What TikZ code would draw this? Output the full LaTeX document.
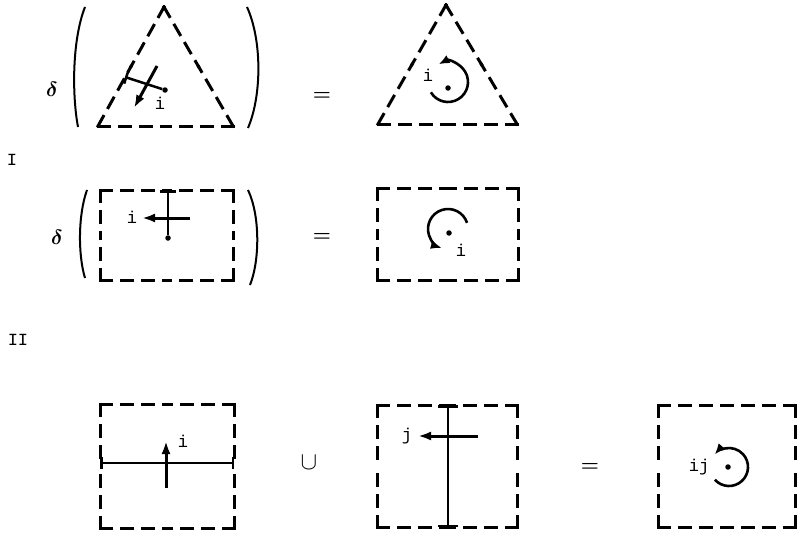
\documentclass[tikz,border=0pt]{standalone}
\usepackage{fontspec}
\setmonofont{Liberation Mono}
\usetikzlibrary{arrows.meta,calc}
\tikzset{
  edgeline/.style={line width=3pt, line cap=rect, dash pattern=on 11pt off 10pt},
  paren/.style={line width=2pt},
  cutline/.style={line width=2.5pt},
  flow/.style={line width=3pt, -{Latex[length=13pt,width=9pt]}},
  turn/.style={line width=2.6pt, -{Latex[length=11pt,width=9pt]}},
  lbl/.style={font=\ttfamily\fontsize{17}{17}\selectfont, inner sep=0pt},
  sym/.style={font=\boldmath\fontsize{22}{22}\selectfont, inner sep=0pt},
  dotmark/.style={circle, fill, inner sep=0pt, minimum size=5.5pt}
}

\begin{document}
\begin{tikzpicture}[x=1pt,y=-1pt]
  \useasboundingbox (0,0) rectangle (797,535);

  % corners of the dashed cells
  \coordinate (ta) at (98,126);  \coordinate (tb) at (233,126); \coordinate (tc) at (164,7);
  \coordinate (ua) at (378,124); \coordinate (ub) at (517,124); \coordinate (uc) at (446,5);
  \coordinate (ra) at (100,190); \coordinate (rb) at (233,190); \coordinate (rc) at (233,280); \coordinate (rd) at (100,280);
  \coordinate (sa) at (377,188); \coordinate (sb) at (518,188); \coordinate (sc) at (518,280); \coordinate (sd) at (377,280);
  \coordinate (pa) at (100,404); \coordinate (pb) at (234,404); \coordinate (pc) at (234,528); \coordinate (pd) at (100,528);
  \coordinate (qa) at (377,405); \coordinate (qb) at (517,405); \coordinate (qc) at (517,527); \coordinate (qd) at (377,527);
  \coordinate (wa) at (658,405); \coordinate (wb) at (795,405); \coordinate (wc) at (795,527); \coordinate (wd) at (658,527);

  % dashed outlines, each side from both corners
  \foreach \p/\q in {ta/tb,tb/tc,tc/ta, ua/ub,ub/uc,uc/ua,
                     ra/rb,rb/rc,rc/rd,rd/ra, sa/sb,sb/sc,sc/sd,sd/sa,
                     pa/pb,pb/pc,pc/pd,pd/pa, qa/qb,qb/qc,qc/qd,qd/qa,
                     wa/wb,wb/wc,wc/wd,wd/wa} {
    \draw[edgeline] (\p) -- ($(\p)!0.5!(\q)$);
    \draw[edgeline] (\q) -- ($(\p)!0.5!(\q)$);
  }

  % row labels and operators
  \node[lbl] (rowI) at (12,160) {I};
  \node[lbl] (rowII) at (18,340) {II};
  \node[sym] (delta1) at (52,89) {$\delta$};
  \node[sym] (delta2) at (57,237) {$\delta$};
  \node[sym] (eq1) at (322,96) {$=$};
  \node[sym] (eq2) at (322,237) {$=$};
  \node[sym, font=\fontsize{27}{27}\selectfont] (union) at (309,463) {$\cup$};
  \node[sym] (eq3) at (590,467) {$=$};

  % brackets round the operands of delta
  \draw[paren] (85,7) .. controls (72,40) and (72,95) .. (78,127);
  \draw[paren] (247,7) .. controls (262,40) and (262,95) .. (248,128);
  \draw[paren] (87,190) .. controls (78,215) and (78,255) .. (85,278);
  \draw[paren] (248,190) .. controls (260,215) and (260,260) .. (250,285);

  % triangle, edge cut and flux
  \node[dotmark] (tdot) at (165,90) {};
  \coordinate (tcut) at (125,77);
  \draw[cutline, {Bar[width=13pt]}-] (tcut) -- (tdot);
  \coordinate (tfs) at (157,66); \coordinate (tfe) at (134,108);
  \draw[flow] (tfs) -- (tfe);
  \node[lbl] (ti) at (160,103) {i};

  % triangle, circulation
  \node[dotmark] (udot) at (448,88) {};
  \draw[turn] (448,82) ++(149:20) arc[start angle=149, end angle=-118, radius=20];
  \node[lbl] (ui) at (428,75) {i};

  % rectangle, edge cut and flux
  \node[dotmark] (rdot) at (168,238) {};
  \coordinate (rcut) at (168,190);
  \draw[cutline, {Bar[width=16pt]}-] (rcut) -- (rdot);
  \coordinate (rfs) at (190,218); \coordinate (rfe) at (142,218);
  \draw[flow] (rfs) -- (rfe);
  \node[lbl] (ri) at (132,217) {i};

  % rectangle, circulation
  \node[dotmark] (sdot) at (449,233) {};
  \draw[turn] (448,229) ++(-18:20) arc[start angle=-18, end angle=-252, radius=20];
  \node[lbl] (si) at (461,250) {i};

  % union of two cuts
  \coordinate (pl) at (100,463); \coordinate (pr) at (234,463);
  \draw[cutline, {Bar[width=12pt]}-{Bar[width=12pt]}] (pl) -- (pr);
  \coordinate (pfs) at (166,488); \coordinate (pfe) at (166,441);
  \draw[flow] (pfs) -- (pfe);
  \node[lbl] (pi) at (183,441) {i};

  \coordinate (qt) at (448,405); \coordinate (qbot) at (448,527);
  \draw[cutline, {Bar[width=20pt]}-{Bar[width=20pt]}] (qt) -- (qbot);
  \coordinate (qfs) at (478,436); \coordinate (qfe) at (418,436);
  \draw[flow] (qfs) -- (qfe);
  \node[lbl] (qj) at (407,436) {j};

  % resulting circulation
  \node[dotmark] (wdot) at (728,467) {};
  \draw[turn] (729,467) ++(138:19) arc[start angle=138, end angle=-139, radius=19];
  \node[lbl] (wij) at (699,467) {ij};
\end{tikzpicture}
\end{document}
